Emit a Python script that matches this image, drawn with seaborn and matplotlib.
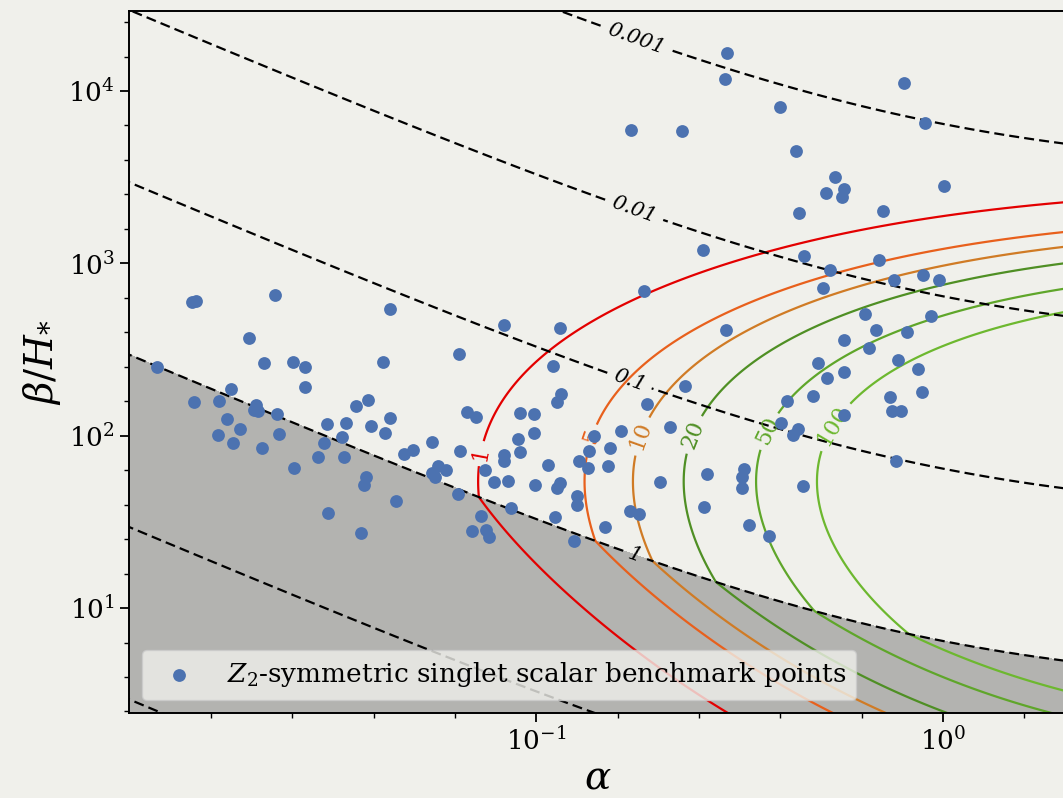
import numpy as np
import matplotlib
matplotlib.use("Agg")
import matplotlib.pyplot as plt
import seaborn as sns
from matplotlib.ticker import FixedLocator, NullFormatter

# Benchmark points of the Z2-symmetric singlet scalar model (log10 of alpha and beta/H_*)
log10_alpha = [
    -1.848, -1.838, -1.644, -1.360, -1.707, -1.670, -1.598, -1.570, -1.378, -1.191,
    -1.570, -1.934, -1.750, -1.842, -1.780, -1.689, -1.695, -1.684, -1.637, -1.762,
    -1.728, -1.783, -1.746, -1.633, -1.674, -1.595, -1.443, -1.415, -1.516, -1.469,
    -1.407, -1.360, -1.373, -1.477, -1.523, -1.538, -1.474, -1.256, -1.326, -1.304,
    -1.241, -1.256, -1.250, -1.221, -1.188, -1.192, -1.419, -1.425, -1.345, -1.513,
    -1.431,
    -0.736, -1.079, -0.942, -0.534, -0.958, -0.940, -0.949, -0.634, -0.727, -1.170,
    -1.148, -1.040, -1.006, -0.670, -0.792, -1.006, -1.046, -0.859, -0.818, -0.870,
    -1.040, -1.080, -1.079, -0.896, -0.874, -0.823, -0.972, -1.126, -1.104, -1.069,
    -1.003, -0.942, -0.948, -0.696, -0.580, -0.490, -0.495, -0.494, -0.900, -0.899,
    -1.063, -0.587, -1.136, -0.955, -0.770, -0.747, -0.830, -0.478, -1.159, -1.123,
    -1.117, -0.908, -0.427,
    -0.531, -0.535, -0.096, -0.400, -0.043, -0.768, -0.641, -0.362, -0.265, -0.242,
    -0.249, -0.287, 0.002, -0.355, -0.147, -0.589, -0.341, -0.158, -0.277, -0.121,
    -0.050, -0.009, -0.295,
    -0.192, -0.028, -0.164, -0.087, -0.242, -0.182, -0.110, -0.062, -0.308, -0.243,
    -0.284, -0.052, -0.319, -0.384, -0.130, -0.126, -0.104, -0.243, -0.399, -0.357,
    -0.369, -0.114, -0.344,
]
log10_beta = [
    2.774, 2.779, 2.818, 2.733, 2.569, 2.424, 2.428, 2.400, 2.429, 2.472,
    2.280, 2.396, 2.271, 2.197, 2.199, 2.178, 2.147, 2.143, 2.128, 2.097,
    2.039, 2.004, 1.958, 2.010, 1.926, 1.810, 2.172, 2.207, 2.070, 2.074,
    2.056, 2.100, 2.013, 1.990, 1.958, 1.874, 1.876, 1.965, 1.896, 1.917,
    1.824, 1.784, 1.758, 1.799, 1.913, 1.659, 1.762, 1.712, 1.623, 1.551,
    1.437,
    2.841, 2.644, 2.625, 2.615, 2.402, 2.242, 2.193, 2.290, 2.186, 2.135,
    2.110, 2.132, 2.126, 2.050, 2.029, 2.016, 1.981, 1.996, 1.929, 1.913,
    1.907, 1.890, 1.851, 1.853, 1.813, 1.822, 1.832, 1.803, 1.733, 1.737,
    1.716, 1.726, 1.697, 1.731, 1.775, 1.807, 1.760, 1.694, 1.648, 1.600,
    1.580, 1.584, 1.532, 1.526, 1.565, 1.543, 1.470, 1.482, 1.445, 1.450,
    1.412, 1.387, 1.416,
    4.221, 4.070, 4.047, 3.909, 3.812, 3.776, 3.770, 3.654, 3.501, 3.432,
    3.383, 3.408, 3.451, 3.294, 3.306, 3.075, 3.043, 3.017, 2.963, 2.901,
    2.934, 2.905, 2.857,
    2.706, 2.692, 2.611, 2.604, 2.555, 2.511, 2.441, 2.389, 2.422, 2.371,
    2.337, 2.254, 2.228, 2.201, 2.225, 2.141, 2.141, 2.118, 2.071, 2.041,
    2.002, 1.851, 1.710,
]

# Detector response of the SNR estimate versus log10(beta/H_*)
resp_log_beta = [0.392, 0.741, 0.857, 1.106, 1.396, 1.646, 2.093, 2.482, 2.714, 2.807,
                 2.859, 2.980, 3.004, 3.091, 3.097, 3.184, 3.225, 3.320, 3.350]
resp_log_gain = [2.407, 3.091, 3.281, 3.683, 4.191, 4.486, 4.786, 4.826, 4.685, 4.584,
                 4.529, 4.334, 4.276, 4.062, 4.032, 3.854, 3.718, 3.452, 3.321]

snr_levels = [1, 5, 10, 20, 50, 100]
snr_colors = ["#e30000", "#e8601c", "#d07b25", "#4f8f24", "#5fa62a", "#6db82f"]
tau_levels = [0.001, 0.01, 0.1, 1, 10, 100]
tau_labels = {0.001: "0.001", 0.01: "0.01", 0.1: "0.1", 1: "1"}

v_wall = 1.0
bg = "#f0f0eb"

sns.set_style("ticks", {"axes.facecolor": bg, "figure.facecolor": bg})
plt.rcParams["font.family"] = ["DejaVu Serif"]
plt.rcParams["mathtext.fontset"] = "dejavuserif"
for key in ["text.color", "axes.labelcolor", "xtick.color", "ytick.color", "axes.edgecolor"]:
    plt.rcParams[key] = "black"

# Grid in (alpha, beta/H_*)
la = np.linspace(-2.1, 0.4, 500)
lb = np.linspace(0.3, 4.6, 500)
LA, LB = np.meshgrid(la, lb)
A, B = 10 ** LA, 10 ** LB

kappa = A / (0.73 + 0.083 * np.sqrt(A) + A)
K = kappa * A / (1 + A)
U = np.sqrt(0.75 * K)
tauH = (8 * np.pi) ** (1 / 3) * v_wall / B / U

# smooth response, continued linearly beyond the tabulated range
coef = np.polyfit(resp_log_beta, resp_log_gain, 4)
b_lo, b_hi = min(resp_log_beta), max(resp_log_beta)
Bc = np.clip(LB, b_lo, b_hi)
dcoef = np.polyder(coef)
log_resp = np.polyval(coef, Bc)
log_resp += np.where(LB > b_hi, np.polyval(dcoef, b_hi) * (LB - b_hi), 0.0)
log_resp += np.where(LB < b_lo, np.polyval(dcoef, b_lo) * (LB - b_lo), 0.0)
snr = K ** 2 * np.minimum(1.0, tauH) * 10 ** log_resp

fig = plt.figure(figsize=(10.63, 7.98), dpi=100)
fig.patch.set_facecolor(bg)
ax = fig.add_axes([129 / 1063, 85 / 798, (1066 - 129) / 1063, 702 / 798])
ax.set_facecolor(bg)
ax.set_xscale("log")
ax.set_yscale("log")

ax.contourf(A, B, tauH, levels=[1, 1e12], colors="k", alpha=0.25, zorder=1)

cs_snr = ax.contour(A, B, snr, levels=snr_levels, colors=snr_colors,
                    linewidths=1.6, zorder=2)
ax.clabel(cs_snr, fmt={l: str(l) for l in snr_levels}, fontsize=16, inline=True,
          manual=[(10 ** -1.122, 10 ** 1.89), (10 ** -0.861, 10 ** 1.994),
                  (10 ** -0.738, 10 ** 1.994), (10 ** -0.613, 10 ** 2.006),
                  (10 ** -0.426, 10 ** 2.023), (10 ** -0.266, 10 ** 2.052)])

cs_tau = ax.contour(A, B, tauH, levels=tau_levels, colors="k", linewidths=1.6, zorder=3)
cs_tau.set_linestyle((0, (4.5, 2.3)))
tau_texts = ax.clabel(cs_tau, levels=[0.001, 0.01, 0.1, 1], fmt=tau_labels,
                      fontsize=15, inline=True,
                      manual=[(10 ** -0.753, 10 ** 4.31), (10 ** -0.76, 10 ** 3.306),
                              (10 ** -0.77, 10 ** 2.325), (10 ** -0.755, 10 ** 1.321)])
for t in tau_texts:
    t.set_fontstyle("italic")

sns.scatterplot(x=10 ** np.array(log10_alpha), y=10 ** np.array(log10_beta), ax=ax,
                color="#4c72b0", s=85, linewidth=0, zorder=4,
                label="$Z_2$-symmetric singlet scalar benchmark points")

ax.set_xlim(10 ** -2.002, 10 ** 0.303)
ax.set_ylim(10 ** 0.391, 10 ** 4.464)

ax.xaxis.set_major_locator(FixedLocator([0.1, 1.0]))
ax.xaxis.set_minor_locator(FixedLocator([10 ** (k / 5) for k in range(-9, 2) if k % 5]))
ax.yaxis.set_major_locator(FixedLocator([10.0, 100.0, 1000.0, 10000.0]))
ax.yaxis.set_minor_locator(FixedLocator([10 ** (k / 5) for k in range(2, 23) if k % 5]))
ax.xaxis.set_minor_formatter(NullFormatter())
ax.yaxis.set_minor_formatter(NullFormatter())
ax.tick_params(which="major", length=6.5, width=1.3, labelsize=19, direction="out")
ax.tick_params(which="minor", length=3.6, width=1.0, direction="out")
for side in ["left", "bottom", "top"]:
    ax.spines[side].set_visible(True)
    ax.spines[side].set_linewidth(1.4)
    ax.spines[side].set_color("black")
ax.spines["right"].set_visible(False)

ax.set_xlabel(r"$\alpha$", fontsize=28, labelpad=3)
ax.set_ylabel(r"$\beta/H_{*}$", fontsize=28)

ax.legend(loc="lower left", fontsize=19, framealpha=0.8)

fig.savefig("out.png", dpi=100, facecolor=bg)
